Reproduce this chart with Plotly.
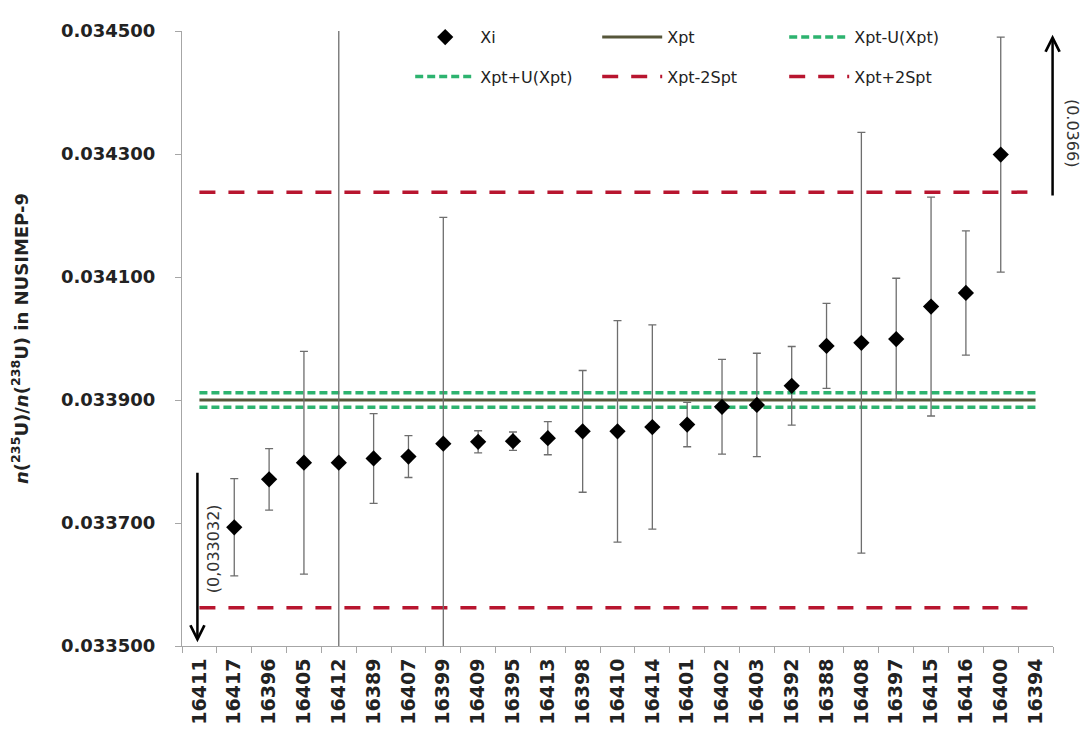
import plotly.graph_objects as go

# ---------------- data ----------------
samples = ["16411", "16417", "16396", "16405", "16412", "16389", "16407", "16399",
           "16409", "16395", "16413", "16398", "16410", "16414", "16401", "16402",
           "16403", "16392", "16388", "16408", "16397", "16415", "16416", "16400", "16394"]

xi = [0.033032, 0.033693, 0.033771, 0.033798, 0.033798, 0.033805, 0.033808, 0.033829,
      0.033832, 0.033833, 0.033838, 0.033849, 0.033849, 0.033856, 0.033860, 0.033889,
      0.033892, 0.033923, 0.033988, 0.033993, 0.033999, 0.034052, 0.034074, 0.034299, 0.0366]

u_xi = [0.0, 0.000079, 0.000050, 0.000181, 0.000900, 0.000073, 0.000034, 0.000368,
        0.000018, 0.000015, 0.000027, 0.000099, 0.000180, 0.000166, 0.000036, 0.000077,
        0.000084, 0.000064, 0.000069, 0.000342, 0.000099, 0.000178, 0.000101, 0.000191, 0.0]

xpt = 0.033900
u_xpt = 0.0000117
s_pt = 0.000169

y_range = [0.0335, 0.0345]
y_dtick = 0.0002

# off-scale results shown with arrows
low_sample, low_label, low_arrow_from, low_arrow_to, low_label_y = "16411", "(0,033032)", 0.033784, 0.033506, 0.033658
high_sample, high_label, high_arrow_from, high_arrow_to, high_label_y = "16394", "(0.0366)", 0.034230, 0.034494, 0.034335

# ---------------- figure ----------------
n = len(samples)
low_idx = samples.index(low_sample)
high_idx = samples.index(high_sample)
fig = go.Figure()

GREEN = "#2db36f"
RED = "#b8152f"
OLIVE = "#56563a"

ref_lines = [
    ("Xpt", xpt, dict(color=OLIVE, width=3), "legend", 2),
    ("Xpt-U(Xpt)", xpt - u_xpt, dict(color=GREEN, width=3.5, dash="8px,4px"), "legend", 3),
    ("Xpt+U(Xpt)", xpt + u_xpt, dict(color=GREEN, width=3.5, dash="8px,4px"), "legend2", 4),
    ("Xpt-2Spt", xpt - 2 * s_pt, dict(color=RED, width=3.5, dash="16px,13px"), "legend2", 5),
    ("Xpt+2Spt", xpt + 2 * s_pt, dict(color=RED, width=3.5, dash="16px,13px"), "legend2", 6),
]
for name, val, line, leg, rank in ref_lines:
    fig.add_trace(go.Scatter(
        x=samples, y=[val] * n, mode="lines", name=name, line=line,
        legend=leg, legendrank=rank, hoverinfo="skip"))

fig.add_trace(go.Scatter(
    x=samples, y=xi, mode="markers", name="Xi",
    marker=dict(symbol="diamond", size=12.5, color="black"),
    error_y=dict(type="data", array=u_xi, visible=True, color="#6e6e6e",
                 thickness=1.3, width=4),
    legend="legend", legendrank=1))

# category axes: annotation positions given as category index
fig.add_annotation(x=low_idx, y=low_arrow_to, ax=low_idx, ay=low_arrow_from,
                   xref="x", yref="y", axref="x", ayref="y",
                   showarrow=True, arrowhead=5, arrowsize=1.1, arrowwidth=2.5,
                   arrowcolor="black", text="", xshift=-2)
fig.add_annotation(x=high_idx, y=high_arrow_to, ax=high_idx, ay=high_arrow_from,
                   xref="x", yref="y", axref="x", ayref="y",
                   showarrow=True, arrowhead=5, arrowsize=1.1, arrowwidth=2.5,
                   arrowcolor="black", text="", xshift=17)
fig.add_annotation(x=low_idx, y=low_label_y, xref="x", yref="y",
                   text=low_label, textangle=-90,
                   showarrow=False, xshift=14,
                   font=dict(family="DejaVu Sans", size=16, color="#333"))
fig.add_annotation(x=high_idx, y=high_label_y, xref="x", yref="y",
                   text=high_label, textangle=90,
                   showarrow=False, xshift=37,
                   font=dict(family="DejaVu Sans", size=16, color="#333"))

legend_common = dict(orientation="h", xanchor="left", yanchor="middle",
                     x=0.262, entrywidth=112, itemwidth=60,
                     bgcolor="rgba(255,255,255,0)", tracegroupgap=0,
                     font=dict(family="DejaVu Sans", size=16, color="#222"))

fig.update_layout(
    width=1089, height=738,
    margin=dict(l=174, r=44, t=12, b=100),
    paper_bgcolor="white", plot_bgcolor="white",
    showlegend=True,
    legend=dict(**legend_common, y=0.990),
    legend2=dict(**legend_common, y=0.926),
    xaxis=dict(
        type="category", categoryorder="array", categoryarray=samples,
        showgrid=False, zeroline=False, showline=True, linecolor="#a6a6a6", linewidth=1,
        ticks="outside", tickson="boundaries", ticklen=6, tickcolor="#a6a6a6",
        tickangle=-90, ticklabelstandoff=4,
        tickfont=dict(family="DejaVu Sans", size=19, color="#222", weight="bold"),
        range=[-0.5, n - 0.5], automargin=False,
    ),
    yaxis=dict(
        range=y_range, dtick=y_dtick, tick0=y_range[0], tickformat=".6f",
        showgrid=False, zeroline=False, showline=True, linecolor="#a6a6a6", linewidth=1,
        ticks="outside", ticklen=6, tickcolor="#a6a6a6", ticklabelstandoff=16,
        tickfont=dict(family="DejaVu Sans", size=18, color="#222", weight="bold"),
        title=dict(text="<i>n</i>(<sup>235</sup>U)/<i>n</i>(<sup>238</sup>U) in NUSIMEP-9",
                   font=dict(family="DejaVu Sans", size=18, color="#222", weight="bold"),
                   standoff=30),
        automargin=False,
    ),
)

fig.write_html("out.html")
